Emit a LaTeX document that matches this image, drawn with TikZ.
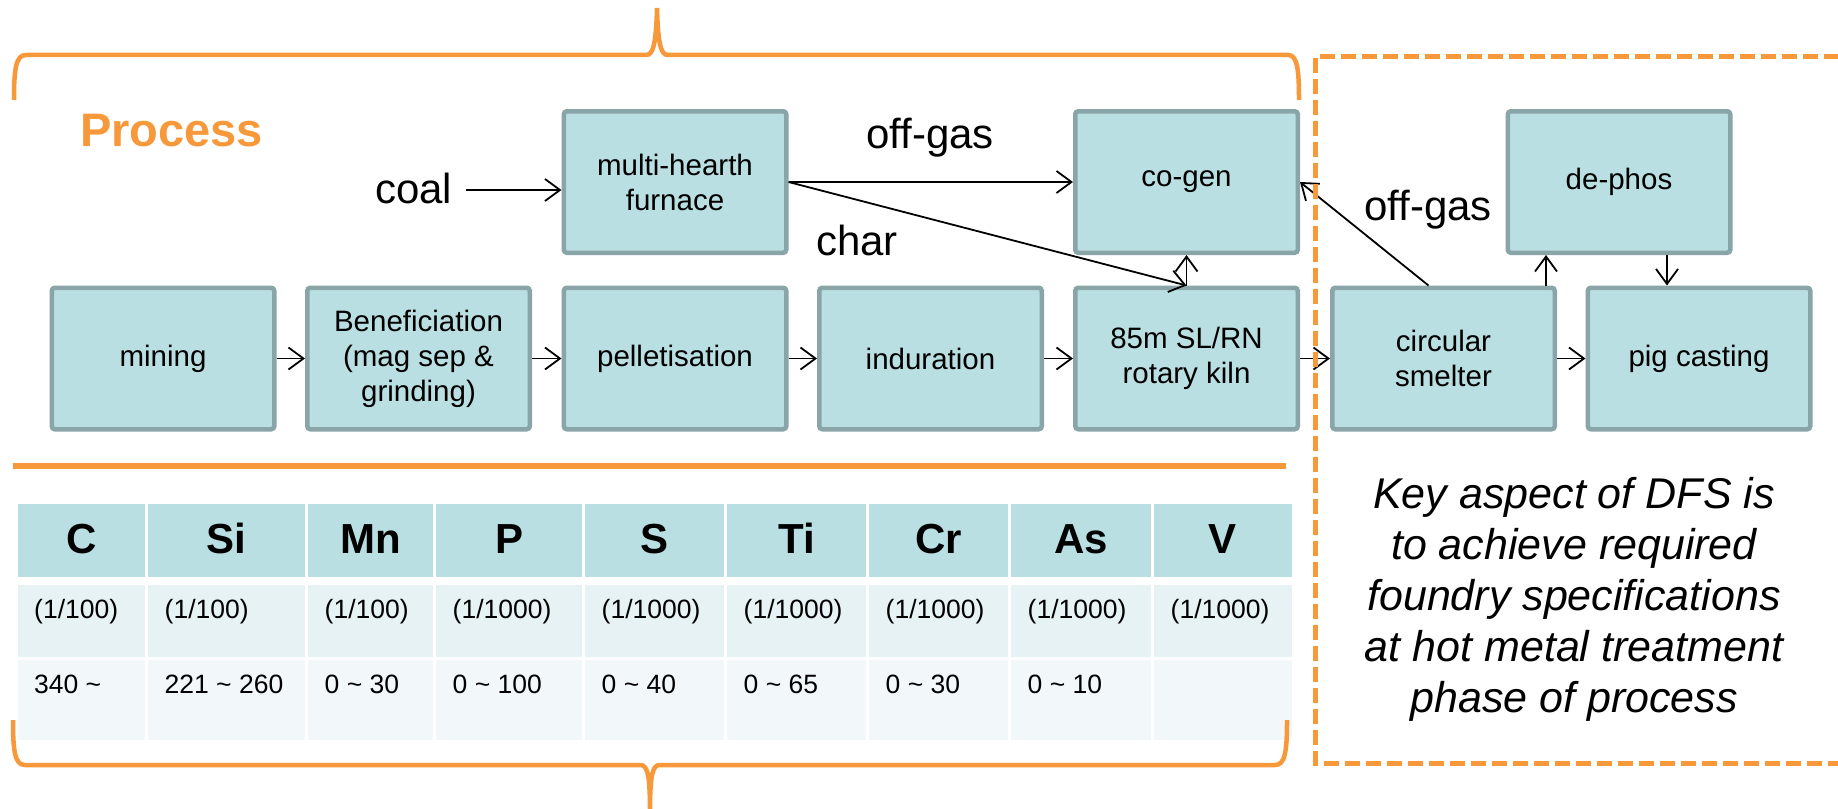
\documentclass[tikz,border=0pt]{standalone}
\usepackage{fontspec}
\setmainfont{Liberation Sans}
\usetikzlibrary{arrows.meta}
\definecolor{boxfill}{HTML}{B9DFE2}
\definecolor{boxline}{HTML}{8AA5A8}
\definecolor{orng}{HTML}{F7983A}
\definecolor{rowa}{HTML}{E6F2F4}
\definecolor{rowb}{HTML}{F2F8FA}
\newcommand{\pcH}{(1/100)}
\newcommand{\pcK}{(1/1000)}
\newcommand{\mytld}{\textasciitilde}
\begin{document}
\begin{tikzpicture}[x=1pt,y=-1pt,
 procbox/.style={draw=boxline, fill=boxfill, line width=4.5pt, rounded corners=3pt,
   minimum width=222.5pt, minimum height=141.5pt, inner sep=0pt, align=center,
   font=\fontsize{29.5}{35}\selectfont},
 arr/.style={line width=1.8pt, -{Straight Barb[length=15pt,width=22pt]}},
 lbl/.style={font=\fontsize{42}{50}\selectfont, inner sep=0pt, anchor=base west},
 orngline/.style={draw=orng, line width=4.5pt},
 hdr/.style={font=\bfseries\fontsize{42}{50}\selectfont, inner sep=0pt, anchor=base},
 cell/.style={font=\fontsize{26.5}{32}\selectfont, inner sep=0pt, anchor=base west},
]
\useasboundingbox (0,0) rectangle (1838,808);
\clip (0,0) rectangle (1838,808);

% process boxes
\node[procbox] (mining) at (163,358.5) {mining};
\node[procbox] (benef) at (418.5,358.5) {Beneficiation\\(mag sep \&\\grinding)};
\node[procbox] (pellet) at (675,358.5) {pelletisation};
\node[procbox] (indur) at (930.5,358.5) {induration};
\node[procbox] (kiln) at (1186.5,358.5) {85m SL/RN\\rotary kiln};
\node[procbox] (smelt) at (1443.5,358.5) {circular\\smelter};
\node[procbox] (pig) at (1699,358.5) {pig casting};
\node[procbox] (multi) at (675,182) {multi-hearth\\furnace};
\node[procbox] (cogen) at (1186.5,182) {co-gen};
\node[procbox] (dephos) at (1619,182) {de-phos};

% labels
\node[lbl] (coal) at (375,203) {coal};
\node[lbl] (offgasA) at (866,148) {off-gas};
\node[lbl] (char) at (816,255) {char};
\node[lbl] (offgasB) at (1364,220) {off-gas};
\node[font=\bfseries\fontsize{47}{56}\selectfont, text=orng, inner sep=0pt, anchor=base west] (proc) at (80,146) {Process};

% connectors
\coordinate (coalend) at (466,190);
\draw[arr] (coalend) -- (coalend -| multi.west);
\draw[arr] (mining) -- (benef);
\draw[arr] (benef) -- (pellet);
\draw[arr] (pellet) -- (indur);
\draw[arr] (indur) -- (kiln);
\draw[arr] (kiln) -- (smelt);
\draw[arr] (smelt) -- (pig);
\draw[arr] (multi.east) -- (cogen.west);
\draw[arr] (multi.east) -- (kiln.north);
\draw[arr] (kiln.north) -- (cogen.south);
\draw[arr] ([xshift=-15]smelt.north) -- (cogen.east);
\draw[arr] ([xshift=-11]smelt.north east) -- ([xshift=-11]smelt.north east |- dephos.south);
\draw[arr] ([xshift=48]dephos.south) -- ([xshift=48]dephos.south |- pig.north);

% table
\foreach \xl/\xr/\h/\u/\v [count=\i] in {
  16/146.5/C/\pcH/340\ \mytld,
  146.5/306.5/Si/\pcH/221\ \mytld\ 260,
  306.5/434.5/Mn/\pcH/0\ \mytld\ 30,
  434.5/583.5/P/\pcK/0\ \mytld\ 100,
  583.5/725.5/S/\pcK/0\ \mytld\ 40,
  725.5/867.5/Ti/\pcK/0\ \mytld\ 65,
  867.5/1009.5/Cr/\pcK/0\ \mytld\ 30,
  1009.5/1152.5/As/\pcK/0\ \mytld\ 10,
  1152.5/1293/V/\pcK/{}}{
  \fill[boxfill] (\xl+1.5,504) rectangle (\xr-1.5,577);
  \fill[rowa] (\xl+1.5,585) rectangle (\xr-1.5,657);
  \fill[rowb] (\xl+1.5,660) rectangle (\xr-1.5,740);
  \node[hdr] (h\i) at ({(\xl+\xr)/2},553) {\h};
  \node[cell] (u\i) at (\xl+18,618) {\u};
  \node[cell] (v\i) at (\xl+18,693) {\v};
}

% orange separators and braces
\draw[orngline, line width=5.5pt] (13,466) -- (1286,466);
\draw[orngline] (14,100) .. controls (14,68) and (16,55) .. (26,55) -- (646,55)
  .. controls (653,55) and (656,45) .. (657,8) .. controls (658,45) and (661,55) .. (668,55)
  -- (1288,55) .. controls (1297,55) and (1299,68) .. (1299,100);
\draw[orngline] (13,720) .. controls (13,752) and (15,765) .. (25,765) -- (640,765)
  .. controls (647,765) and (650,772) .. (650,812) .. controls (650,772) and (653,765) .. (660,765)
  -- (1275,765) .. controls (1285,765) and (1287,752) .. (1287,720);
\draw[orng, line width=5pt, dash pattern=on 15pt off 6pt] (1860,57) -- (1315,57) -- (1315,763) -- (1860,763);

% note
\node[font=\itshape\fontsize{43}{51}\selectfont, align=center, anchor=base, inner sep=0pt] (note) at (1574,712)
  {Key aspect of DFS is\\to achieve required\\foundry specifications\\at hot metal treatment\\phase of process};
\end{tikzpicture}
\end{document}
